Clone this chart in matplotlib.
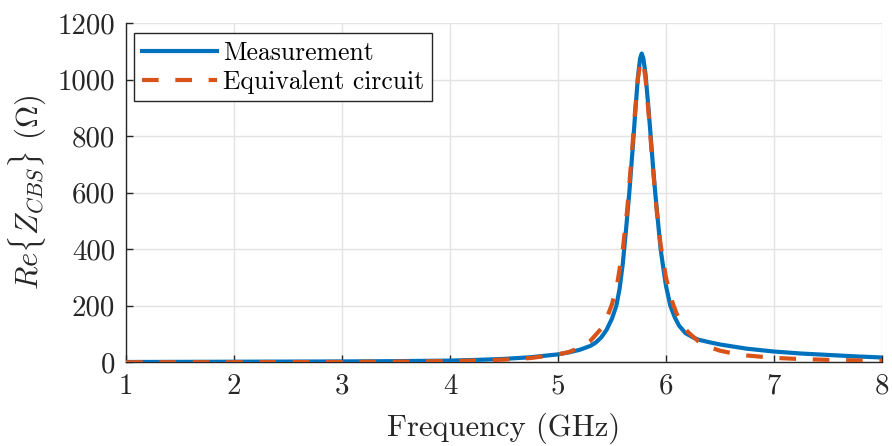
import matplotlib
matplotlib.use("Agg")
import matplotlib.pyplot as plt

plt.rcParams['font.family'] = 'serif'
plt.rcParams['font.serif'] = ['cmr10']
plt.rcParams['mathtext.fontset'] = 'cm'
plt.rcParams['axes.formatter.use_mathtext'] = True

# Measurement
freq_meas = [1.0, 1.5, 2.0, 2.5, 3.0, 3.5, 4.0, 4.25, 4.5, 4.75, 5.0, 5.1, 5.2, 5.3, 5.35,
             5.4, 5.45, 5.5, 5.54, 5.57, 5.6, 5.63, 5.66, 5.69, 5.72, 5.74, 5.76, 5.775,
             5.79, 5.81, 5.835, 5.86, 5.88, 5.9, 5.93, 5.95, 5.98, 6.0, 6.04, 6.08, 6.12,
             6.18, 6.25, 6.3, 6.4, 6.5, 6.75, 7.0, 7.25, 7.5, 7.75, 8.0]
re_meas = [1, 1.5, 2, 2.5, 3, 4, 6, 8.5, 12, 18, 28, 35, 44, 58, 70,
           88, 115, 155, 200, 260, 350, 470, 600, 750, 910, 1010, 1075, 1092,
           1075, 1020, 910, 790, 690, 600, 480, 400, 320, 270, 200, 160, 130,
           103, 88, 80, 71, 63, 48, 38, 31, 26, 21, 17]

# Equivalent circuit
freq_eq = [1.0, 1.5, 2.0, 2.5, 3.0, 3.5, 4.0, 4.25, 4.5, 4.75, 5.0, 5.1, 5.2, 5.3, 5.4,
           5.45, 5.5, 5.55, 5.6, 5.64, 5.68, 5.71, 5.74, 5.76, 5.775, 5.79, 5.81, 5.84,
           5.87, 5.91, 5.95, 6.0, 6.05, 6.1, 6.15, 6.2, 6.3, 6.4, 6.5, 6.6, 6.75, 7.0,
           7.25, 7.5, 7.75, 8.0]
re_eq = [0.1, 0.2, 0.4, 0.7, 1.2, 2.2, 4.3, 6.2, 9.4, 15.2, 28, 36, 52, 76, 119,
         155, 206, 282, 400, 538, 719, 872, 1004, 1056, 1069, 1056, 1005, 875,
         727, 550, 416, 299, 222, 170, 134, 108, 74, 54, 41, 33, 24, 15.7,
         11.3, 8.6, 6.7, 5.5]

xticks = [1, 2, 3, 4, 5, 6, 7, 8]
yticks = [0, 200, 400, 600, 800, 1000, 1200]

fig = plt.figure(figsize=(8.92, 4.46), dpi=100)
ax = fig.add_axes([0.1413, 0.1877, 0.8475, 0.7607])

ax.plot(freq_meas, re_meas, color='#0072BD', lw=3.0, label='Measurement', zorder=3)
ax.plot(freq_eq, re_eq, color='#D95319', lw=3.0, ls=(0, (4, 4)), dash_capstyle='butt',
        label='Equivalent circuit', zorder=4)

ax.set_xlim(1, 8)
ax.set_ylim(0, 1200)
ax.set_xticks(xticks)
ax.set_yticks(yticks)
ax.set_xticklabels([str(v) for v in xticks])
ax.set_yticklabels([str(v) for v in yticks])
ax.grid(True, color='#e3e3e3', lw=1.0)
ax.set_axisbelow(True)
for s in ['top', 'right']:
    ax.spines[s].set_visible(False)
for s in ['left', 'bottom']:
    ax.spines[s].set_color('#262626')
    ax.spines[s].set_linewidth(1.0)
ax.tick_params(direction='in', length=5, width=1, color='#262626',
               labelsize=20.8, labelcolor='#262626', pad=8)

ax.set_xlabel('Frequency (GHz)', fontsize=22, color='#262626', labelpad=9)
ax.set_ylabel(r'$Re\{Z_{CBS}\}$ ($\Omega$)', fontsize=22, color='#262626', labelpad=7)

leg = ax.legend(loc='upper left', bbox_to_anchor=(0.011, 0.97), fontsize=18.5,
                frameon=True, fancybox=False, edgecolor='#262626', framealpha=1,
                handlelength=2.9, borderpad=0.3, labelspacing=0.2, handletextpad=0.25,
                borderaxespad=0.0)
leg.get_frame().set_linewidth(1.0)

fig.savefig('out.png', dpi=100)
